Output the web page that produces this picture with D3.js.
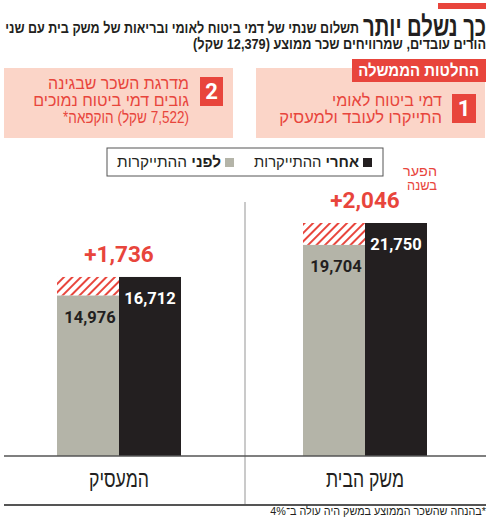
<!DOCTYPE html>
<html><head><meta charset="utf-8">
<script src="https://cdn.jsdelivr.net/npm/d3@7"></script>
<style>
html,body{margin:0;padding:0;background:#fff;}
svg{display:block;}
text{font-family:"Liberation Sans","DejaVu Sans",sans-serif;}
.num{font-family:"Roboto","Liberation Sans",sans-serif;font-weight:700;}
</style></head>
<body>
<svg id="c" width="490" height="520"></svg>
<script>
const categories = ["המעסיק", "משק הבית"];
const before = [14976, 19704];
const after = [16712, 21750];
const diffs = [1736, 2046];
const seriesNames = ["לפני", "אחרי"];
const legendSuffix = "ההתייקרות";

const RED = "#e8453c", GRAY = "#b4b4a8", BLACK = "#231f20", PINK = "#fbd5c8";
const svg = d3.select("#c");
const defs = svg.append("defs");
const pat = defs.append("pattern").attr("id","hatch").attr("patternUnits","userSpaceOnUse")
  .attr("width",6).attr("height",6).attr("patternTransform","rotate(45)");
pat.append("rect").attr("width",6).attr("height",6).attr("fill","#fff");
pat.append("rect").attr("x",0).attr("y",0).attr("width",2).attr("height",6).attr("fill",RED);

// right-aligned RTL text, horizontally scaled to a target width (keeps glyph height)
function ftext(x, y, fs, txt, w, opts={}){
  const g = svg.append("g").attr("transform",`translate(${x},${y})`);
  const t = g.append("text").attr("x",0).attr("y",0).attr("direction","rtl")
    .attr("text-anchor", opts.anchor || "start").attr("font-size",fs)
    .attr("font-weight", opts.weight || 400).attr("fill", opts.fill || "#231f20");
  if (typeof txt === "string") t.text(txt); else txt(t);
  const cur = t.node().getComputedTextLength();
  if (w && cur > 0) g.attr("transform",`translate(${x},${y}) scale(${(w/cur).toFixed(4)},1)`);
  return t;
}

// header
svg.append("rect").attr("x",438).attr("y",3).attr("width",48).attr("height",6).attr("fill",RED);
ftext(486, 36, 28, "כך נשלם יותר", 123, {weight:700});
ftext(359, 33, 15, "תשלום שנתי של דמי ביטוח לאומי ובריאות של משק בית עם שני", 354, {weight:700});
ftext(486, 49, 15, "הורים עובדים, שמרוויחים שכר ממוצע (12,379 שקל)", 293, {weight:700});

// boxes
svg.append("rect").attr("x",256).attr("y",68).attr("width",229).attr("height",70).attr("fill",PINK);
svg.append("rect").attr("x",4).attr("y",68).attr("width",229).attr("height",70).attr("fill",PINK);
svg.append("rect").attr("x",352).attr("y",59).attr("width",134).attr("height",23).attr("fill",RED);
ftext(479, 76, 17, "החלטות הממשלה", 121, {weight:700, fill:"#fff"});
svg.append("rect").attr("x",452).attr("y",94).attr("width",24).attr("height",29).attr("fill",RED);
svg.append("text").attr("x",464).attr("y",116).attr("text-anchor","middle").attr("class","num")
  .attr("font-size",22).attr("fill","#fff").text("1");
ftext(442, 106, 16.5, "דמי ביטוח לאומי", 110, {fill:RED, weight:500});
ftext(442, 123, 16.5, "התייקרו לעובד ולמעסיק", 163, {fill:RED, weight:500});

svg.append("rect").attr("x",200).attr("y",77).attr("width",23).attr("height",29).attr("fill",RED);
svg.append("text").attr("x",211.5).attr("y",99).attr("text-anchor","middle").attr("class","num")
  .attr("font-size",22).attr("fill","#fff").text("2");
const box2 = [["מדרגת השכר שבגינה",141],["גובים דמי ביטוח נמוכים",156],["(7,522 שקל) הוקפאה*",126]];
box2.forEach((d,i)=> ftext(189, 89+i*17, 16.5, d[0], d[1], {fill:RED, weight:500}));

// legend
svg.append("rect").attr("x",107).attr("y",148).attr("width",276).attr("height",28)
  .attr("fill","#fff").attr("stroke","#555").attr("stroke-width",1);
const legendItems = [{name:seriesNames[1], color:BLACK, x:372, w:105},{name:seriesNames[0], color:GRAY, x:234, w:104}];
legendItems.forEach(d=>{
  svg.append("rect").attr("x",d.x-9).attr("y",158).attr("width",9).attr("height",9).attr("fill",d.color);
  ftext(d.x-13, 167, 15, t=>{
    t.append("tspan").attr("font-weight",700).text(d.name+" ");
    t.append("tspan").text(legendSuffix);
  }, d.w);
});

// scales
const x = d3.scaleBand().domain(categories).range([-4, 488]);
const xs = d3.scaleBand().domain(["before","after"]).range([-62, 62]);
const y = d3.scaleLinear().domain([0, d3.max(after)]).range([456, 223]);

const data = categories.map((c,i)=>({cat:c, before:before[i], after:after[i], diff:diffs[i]}));

// divider
svg.append("line").attr("x1",245).attr("x2",245).attr("y1",202).attr("y2",505)
  .attr("stroke","#b8b8b8").attr("stroke-width",1.5);

const g = svg.append("g");
const grp = g.selectAll("g.grp").data(data).join("g")
  .attr("transform",d=>`translate(${x(d.cat)+x.bandwidth()/2},0)`);
grp.append("rect").attr("x",xs("before")).attr("width",xs.bandwidth())
  .attr("y",d=>y(d.after)).attr("height",d=>y(d.before)-y(d.after)).attr("fill","url(#hatch)");
grp.append("rect").attr("x",xs("before")).attr("width",xs.bandwidth())
  .attr("y",d=>y(d.before)).attr("height",d=>y(0)-y(d.before)).attr("fill",GRAY);
grp.append("rect").attr("x",xs("after")).attr("width",xs.bandwidth())
  .attr("y",d=>y(d.after)).attr("height",d=>y(0)-y(d.after)).attr("fill",BLACK);
const fmt = d3.format(",");
grp.append("text").attr("class","num").attr("x",xs("before")+xs.bandwidth()/2+2)
  .attr("y",d=>y(d.before)+27).attr("text-anchor","middle").attr("font-size",16.5)
  .attr("fill","#231f20").text(d=>fmt(d.before));
grp.append("text").attr("class","num").attr("x",xs("after")+xs.bandwidth()/2)
  .attr("y",d=>y(d.after)+27).attr("text-anchor","middle").attr("font-size",16.5)
  .attr("fill","#fff").text(d=>fmt(d.after));
grp.append("text").attr("class","num").attr("x",0)
  .attr("y",d=>y(d.after)-15).attr("text-anchor","middle").attr("font-size",22.5)
  .attr("fill",RED).text(d=>"+"+fmt(d.diff));
data.forEach((d,i)=>{
  const cx = x(d.cat)+x.bandwidth()/2;
  ftext(cx, 487, 23, d.cat, [60,78][i], {anchor:"middle"});
});

ftext(437, 176, 14, "הפער", 34, {fill:RED});
ftext(437, 190, 14, "בשנה", 30, {fill:RED});

// baselines
svg.append("line").attr("x1",4).attr("x2",486).attr("y1",y(0)).attr("y2",y(0)).attr("stroke","#555").attr("stroke-width",1.5);
svg.append("line").attr("x1",4).attr("x2",486).attr("y1",505).attr("y2",505).attr("stroke","#555").attr("stroke-width",2);

ftext(486, 515, 11, "*בהנחה שהשכר הממוצע במשק היה עולה ב־4%", 216);
</script>
</body></html>
